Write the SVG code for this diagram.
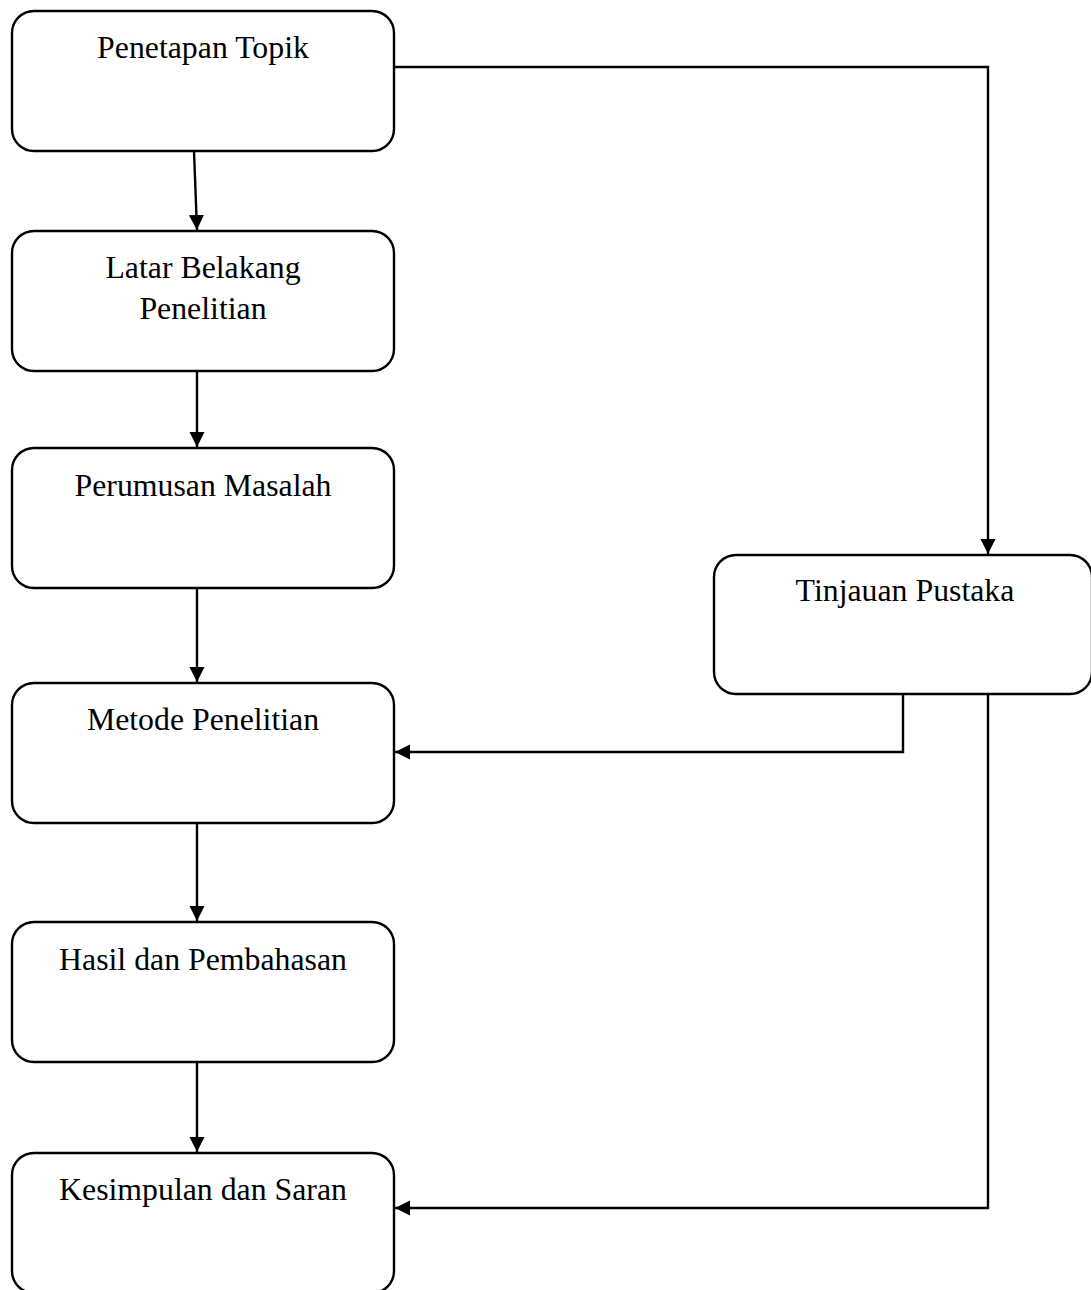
<svg xmlns="http://www.w3.org/2000/svg" width="1091" height="1290" viewBox="0 0 1091 1290">
<style>
.box{fill:#fff;stroke:#000;stroke-width:2.4}
.lbl{font-family:"Liberation Serif","Times New Roman",serif;font-size:31.8px;fill:#000;text-anchor:middle}
.conn{fill:none;stroke:#000;stroke-width:2.4}
</style>
<defs>
<marker id="ah" markerUnits="userSpaceOnUse" markerWidth="16" markerHeight="16" refX="15" refY="7.5" orient="auto">
<path d="M0,0 L15,7.5 L0,15 Z" fill="#000"/>
</marker>
</defs>
<rect width="1091" height="1290" fill="#fff"/>
<g id="connectors">
<path class="conn" d="M194,151 L197,230" marker-end="url(#ah)"/>
<path class="conn" d="M394,67 L988,67 L988,554" marker-end="url(#ah)"/>
<path class="conn" d="M197,371 L197,447" marker-end="url(#ah)"/>
<path class="conn" d="M197,588 L197,682" marker-end="url(#ah)"/>
<path class="conn" d="M197,823 L197,921" marker-end="url(#ah)"/>
<path class="conn" d="M197,1062 L197,1152" marker-end="url(#ah)"/>
<path class="conn" d="M903,694 L903,752 L395,752" marker-end="url(#ah)"/>
<path class="conn" d="M988,694 L988,1208 L395,1208" marker-end="url(#ah)"/>
</g>
<g id="n1"><rect class="box" x="12" y="11" width="382" height="140" rx="22"/><text class="lbl" x="203" y="58">Penetapan Topik</text></g>
<g id="n2"><rect class="box" x="12" y="231" width="382" height="140" rx="22"/><text class="lbl" x="203" y="278">Latar Belakang</text><text class="lbl" x="203" y="319">Penelitian</text></g>
<g id="n3"><rect class="box" x="12" y="448" width="382" height="140" rx="22"/><text class="lbl" x="203" y="496">Perumusan Masalah</text></g>
<g id="n4"><rect class="box" x="12" y="683" width="382" height="140" rx="22"/><text class="lbl" x="203" y="730">Metode Penelitian</text></g>
<g id="n5"><rect class="box" x="12" y="922" width="382" height="140" rx="22"/><text class="lbl" x="203" y="970">Hasil dan Pembahasan</text></g>
<g id="n6"><rect class="box" x="12" y="1153" width="382" height="140" rx="22"/><text class="lbl" x="203" y="1200">Kesimpulan dan Saran</text></g>
<g id="n7"><rect class="box" x="714" y="555" width="378" height="139" rx="22"/><text class="lbl" x="905" y="601">Tinjauan Pustaka</text></g>
</svg>
